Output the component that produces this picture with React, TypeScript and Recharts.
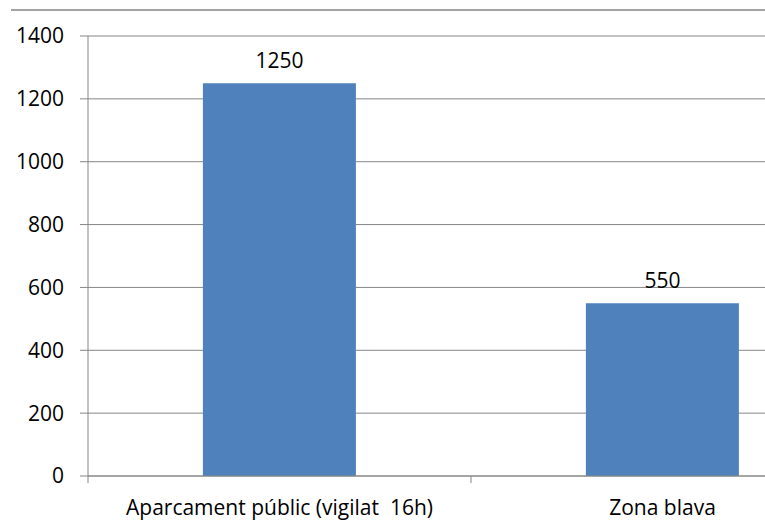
import React from 'react';
import { BarChart, Bar, XAxis, YAxis, CartesianGrid, LabelList } from 'recharts';

const categories = ['Aparcament públic (vigilat\u00a0 16h)', 'Zona blava'];
const places = [1250, 550];
const yTicks = [0, 200, 400, 600, 800, 1000, 1200, 1400];

const data = categories.map((name, i) => ({ name, value: places[i] }));

const FONT = '"Open Sans", sans-serif';
const GREY = '#868686';
const SIZE = 21;

const CategoryTick = (props: any) => {
  const { x, y, payload } = props;
  const off = payload && payload.offset ? payload.offset : 0;
  return (
    <g>
      <line x1={x - off} y1={y} x2={x - off} y2={y + 7} stroke={GREY} strokeWidth={1} />
      <text
        x={x}
        y={y + 39}
        textAnchor="middle"
        fill="#000"
        style={{ fontFamily: FONT, fontSize: SIZE }}
      >
        {payload.value}
      </text>
    </g>
  );
};

export default function App() {
  return (
    <div
      style={{
        position: 'fixed',
        left: 0,
        top: 0,
        width: 765,
        height: 523,
        overflow: 'hidden',
        background: '#fff',
      }}
    >
      <div
        style={{
          position: 'absolute',
          left: 11,
          right: 0,
          top: 9,
          borderTop: '2px solid #a3a3a3',
        }}
      />
      <BarChart
        width={870}
        height={523}
        data={data}
        margin={{ top: 36, right: 16, left: 0, bottom: 7 }}
        barCategoryGap="30%"
      >
        <CartesianGrid vertical={false} stroke={GREY} />
        <XAxis
          dataKey="name"
          axisLine={{ stroke: GREY }}
          tickLine={false}
          tickSize={0}
          tickMargin={0}
          height={40}
          interval={0}
          tick={<CategoryTick />}
        />
        <YAxis
          domain={[0, 1400]}
          ticks={yTicks}
          width={88}
          axisLine={{ stroke: GREY }}
          tickLine={{ stroke: GREY }}
          tickSize={8}
          tickMargin={16}
          tick={{ fill: '#000', fontSize: SIZE, fontFamily: FONT }}
        />
        <Bar dataKey="value" fill="#4F81BD" isAnimationActive={false}>
          <LabelList
            dataKey="value"
            position="top"
            offset={15}
            fill="#000"
            style={{ fontFamily: FONT, fontSize: SIZE }}
          />
        </Bar>
      </BarChart>
    </div>
  );
}
